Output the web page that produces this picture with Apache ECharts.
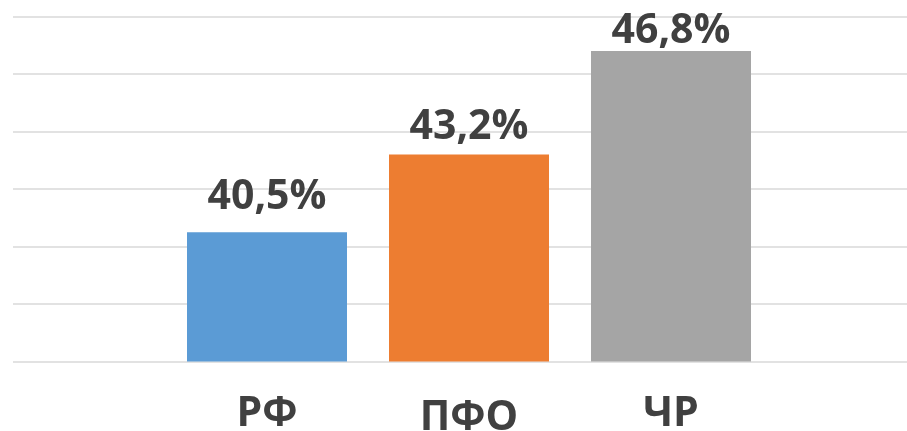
<!DOCTYPE html>
<html>
<head>
<meta charset="utf-8">
<script src="https://cdn.jsdelivr.net/npm/echarts@6/dist/echarts.min.js"></script>
<style>html,body{margin:0;padding:0;background:#fff}#c{width:907px;height:431px}</style>
</head>
<body>
<div id="c"></div>
<script>
var categories = ['РФ', 'ПФО', 'ЧР'];
var values = [40.5, 43.2, 46.8];
var barColors = ['#5B9BD5', '#ED7D31', '#A5A5A5'];
var yMin = 36, yMax = 48, yStep = 2;
var labelGaps = [14, 7, -1];

var chart = echarts.init(document.getElementById('c'), null, {renderer: 'canvas'});
var font = '"Open Sans", "DejaVu Sans", sans-serif';
chart.setOption({
  animation: false,
  grid: [
    {left: 166, right: 135, top: 16.5, bottom: 69.5, containLabel: false, outerBoundsMode: 'none'},
    {left: 13, right: 0, top: 16.5, bottom: 69.5, containLabel: false, outerBoundsMode: 'none'}
  ],
  xAxis: [
    {type: 'category', gridIndex: 0, data: categories,
     axisLine: {show: false}, axisTick: {show: false},
     axisLabel: {interval: 0, hideOverlap: false, margin: 32,
       fontFamily: font, fontWeight: 'bold', fontSize: 41, color: '#404040',
       formatter: function (v) { return v === 'ПФО' ? '{b|' + v + '}' : '{a|' + v + '}'; },
       rich: {a: {fontFamily: font, fontWeight: 'bold', fontSize: 41, color: '#404040'},
              b: {fontFamily: font, fontWeight: 'bold', fontSize: 41, color: '#404040', padding: [4, 0, 0, 0]}}}},
    {type: 'value', gridIndex: 1, show: false, min: 0, max: 1}
  ],
  yAxis: [
    {type: 'value', gridIndex: 0, min: yMin, max: yMax, interval: yStep, show: false, splitLine: {show: false}},
    {type: 'value', gridIndex: 1, min: yMin, max: yMax, interval: yStep,
     axisLine: {show: false}, axisTick: {show: false}, axisLabel: {show: false},
     splitLine: {show: true, lineStyle: {color: '#D9D9D9', width: 1.5}}}
  ],
  series: [{
    type: 'bar', xAxisIndex: 0, yAxisIndex: 0,
    data: values.map(function (v, i) {
      return {value: v, itemStyle: {color: barColors[i]}, label: {distance: labelGaps[i]}};
    }),
    barWidth: 160,
    label: {show: true, position: 'top',
      fontFamily: font, fontWeight: 'bold', fontSize: 41, color: '#404040',
      formatter: function (p) { return p.value.toFixed(1).replace('.', ',') + '%'; }}
  }]
});
</script>
</body>
</html>
